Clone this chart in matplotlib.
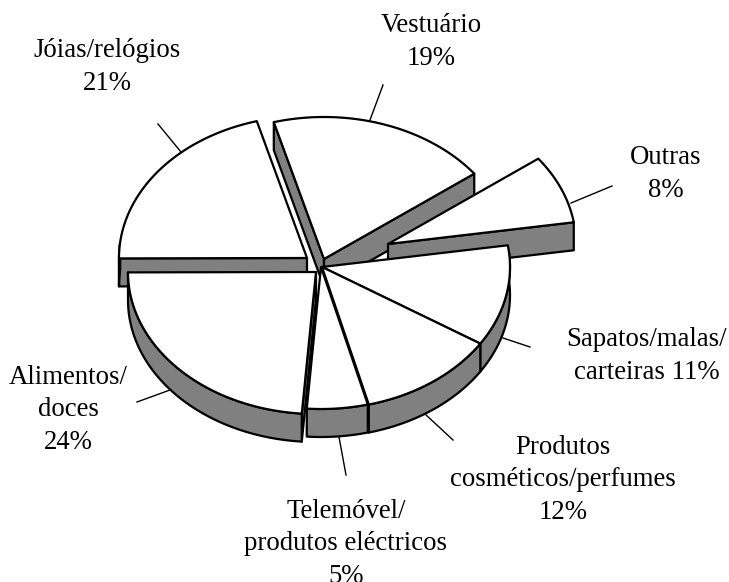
import numpy as np
import matplotlib
matplotlib.use("Agg")
import matplotlib.pyplot as plt
from matplotlib.patches import Polygon

plt.rcParams['font.family'] = ['Liberation Serif', 'DejaVu Serif']

# Values in clockwise drawing order, starting from the slice on the right
# (labels are rounded, slice sizes)
labels = ["Sapatos/malas/\ncarteiras 11%", "Produtos\ncosméticos/perfumes\n12%",
          "Telemóvel/\nprodutos eléctricos\n5%", "Alimentos/\ndoces\n24%",
          "Jóias/relógios\n21%", "Vestuário\n19%", "Outras\n8%"]
values = [11.49, 11.9, 5.2, 23.7, 20.7, 19.0, 7.8]

# Layout, in image pixels
start_angle = -8.8
rx, ry = 188, 142
depth = 28
tips = [(322, 267), (322, 267), (321, 267), (316, 272), (307, 258), (324, 259), (388, 244)]
label_pos = [(647, 356), (563, 480), (346, 544), (68, 410), (107, 67), (431, 42), (666, 174)]
leaders = [((503, 338), (530, 347)), ((425, 414), (453, 440)), ((339, 437), (346, 475)),
           ((170, 390), (137, 402)), ((181, 152), (158, 124)), ((370, 120), (383, 85)),
           ((571, 203), (612, 186))]
draw_order = [4, 5, 6, 0, 1, 2, 3]

gray = "#808080"
lw = 1.6

fig = plt.figure(figsize=(7.29, 5.82), dpi=100)
ax = fig.add_axes([0, 0, 1, 1])
ax.set_xlim(0, 729)
ax.set_ylim(582, 0)
ax.axis('off')

for p0, p1 in leaders:
    ax.plot([p0[0], p1[0]], [p0[1], p1[1]], color='black', lw=1.0, zorder=1)

edges = start_angle + np.cumsum([0] + values) * 360 / sum(values)

z = 2
for i in draw_order:
    tx, ty = tips[i]
    t = np.radians(np.linspace(edges[i], edges[i + 1], 80))
    arc_x = tx + rx * np.cos(t)
    arc_y = ty + ry * np.sin(t)

    # cut faces, only the ones turned towards the viewer
    start_visible = np.cos(t[0]) < 0
    end_visible = np.cos(t[-1]) > 0
    for k, visible in [(0, start_visible), (-1, end_visible)]:
        if visible:
            face = [(tx, ty), (arc_x[k], arc_y[k]), (arc_x[k], arc_y[k] + depth), (tx, ty + depth)]
            ax.add_patch(Polygon(face, closed=True, fc=gray, ec='black', lw=lw, joinstyle='round', zorder=z))

    # outer wall
    front = np.sin(t) > -0.12
    if front.sum() > 1:
        wall = list(zip(arc_x[front], arc_y[front])) + list(zip(arc_x[front][::-1], arc_y[front][::-1] + depth))
        ax.add_patch(Polygon(wall, closed=True, fc=gray, ec='black', lw=lw, joinstyle='round', zorder=z))

    top = [(tx, ty)] + list(zip(arc_x, arc_y))
    ax.add_patch(Polygon(top, closed=True, fc='white', ec='black', lw=lw, joinstyle='round', zorder=z))
    z += 1

for label, (x, y) in zip(labels, label_pos):
    ax.text(x, y, label, ha='center', va='center', fontsize=19.3, linespacing=1.39, color='black', zorder=20)

fig.savefig("out.png", dpi=100)
